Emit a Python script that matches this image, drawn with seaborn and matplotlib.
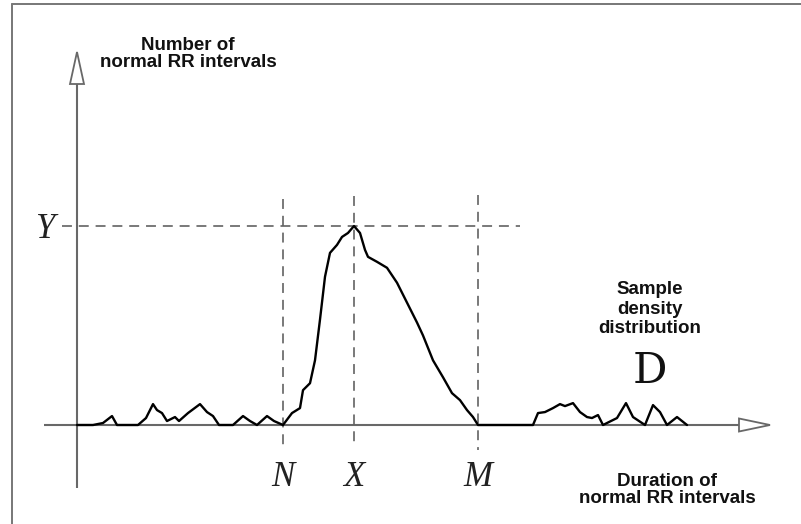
import matplotlib
matplotlib.use("Agg")
import matplotlib.pyplot as plt
from matplotlib.patches import Polygon
from matplotlib.lines import Line2D
import numpy as np
import pandas as pd
import seaborn as sns

# Sample density distribution of normal RR interval durations
duration = [0, 16, 26, 35, 40, 61, 69, 76, 80, 85, 90, 98, 102, 111, 123, 130,
            136, 142, 156, 166, 173, 180, 190, 197, 206, 215, 223, 226, 233,
            238, 243, 248, 253, 260, 265, 271, 277, 283, 288, 291, 300, 310,
            320, 330, 340, 346, 356, 366, 375, 383, 390, 396, 401, 456, 461,
            468, 476, 483, 488, 496, 503, 510, 515, 521, 526, 540, 549, 556,
            568, 576, 583, 590, 600, 610]
count = [0, 0, 1, 4.5, 0, 0, 3.5, 10.5, 7.5, 6, 2, 4, 2, 6, 10.5, 6.5,
         4.5, 0, 0, 4.5, 2, 0, 4.5, 2, 0, 6, 8.5, 17.5, 21,
         32.5, 53, 74.5, 86.5, 90.5, 94.5, 96.5, 100, 96.5, 88, 84.5, 82, 79,
         71.5, 61.5, 51.5, 45, 32.5, 24, 16, 12.5, 7.5, 4, 0, 0, 6,
         6.5, 8.5, 10.5, 9.5, 11, 6.5, 4, 3.5, 5, 0, 3.5, 11, 4,
         0, 10, 6.5, 0, 4, 0]

# Marked positions on the axes
N_pos, X_pos, M_pos = 206, 277, 401
Y_val = 100

sns.set_style("white")
plt.rcParams["font.family"] = ["Liberation Sans", "DejaVu Sans"]

W, H = 801, 524
fig = plt.figure(figsize=(W / 100, H / 100), dpi=100)
ax = fig.add_axes([0, 0, 1, 1])

# scale: 1 count unit = 1.99 px, origin of the axes at pixel (77, 425)
ppu = 1.99
x0_px, y0_px = 77, 425

def py(p):
    """pixel row -> count units"""
    return (y0_px - p) / ppu

axis_col = "#686868"
dash_col = "#555555"

# outer frame (left and top edges)
fig.add_artist(Line2D([12 / W, 12 / W], [0, 1 - 4 / H], color="#777777", lw=1.4))
fig.add_artist(Line2D([12 / W, 1], [1 - 4 / H, 1 - 4 / H], color="#777777", lw=1.4))

# y axis with hollow arrow head
y_bottom, y_base, y_tip = py(488), py(84), py(52)
ax.plot([0, 0], [y_bottom, y_base], color=axis_col, lw=1.5, solid_capstyle="butt")
ax.add_patch(Polygon([[-7, y_base], [7, y_base], [0, y_tip]], closed=True,
                     facecolor="white", edgecolor=axis_col, lw=1.3))

# x axis with hollow arrow head
x_left, x_base, x_tip = -33, 662, 693
half = 6.5 / ppu
ax.plot([x_left, x_base], [0, 0], color=axis_col, lw=1.5, solid_capstyle="butt")
ax.add_patch(Polygon([[x_base, -half], [x_base, half], [x_tip, 0]], closed=True,
                     facecolor="white", edgecolor=axis_col, lw=1.3))

# reference lines
dash_kw = dict(color=dash_col, lw=1.1, dashes=(6.5, 4.5))
ax.plot([-15, 443], [Y_val, Y_val], **dash_kw)
ax.plot([N_pos, N_pos], [py(199), py(450)], **dash_kw)
ax.plot([X_pos, X_pos], [py(196), py(445)], **dash_kw)
ax.plot([M_pos, M_pos], [py(195), py(450)], **dash_kw)

# density curve
df = pd.DataFrame({"duration": duration, "count": count})
sns.lineplot(data=df, x="duration", y="count", ax=ax, color="black", lw=1.7,
             sort=False, estimator=None)
ax.lines[-1].set_solid_joinstyle("round")
ax.set_xlim(-x0_px, W - x0_px)
ax.set_ylim(-(H - y0_px) / ppu, y0_px / ppu)
ax.axis("off")

# labels
lab_kw = dict(fontsize=13.5, fontweight="bold", color="#111111",
              ha="center", va="center", linespacing=0.95)
ax.text(188 - x0_px, py(54), "Number of\nnormal RR intervals", **lab_kw)
ax.text(667 - x0_px, py(490), "Duration of\nnormal RR intervals", **lab_kw)
ax.text(650 - x0_px, py(309), "Sample\ndensity\ndistribution",
        **{**lab_kw, "linespacing": 1.2})

ital = dict(family="Liberation Serif", style="italic", fontsize=25,
            color="#222222", ha="center", va="center")
ax.text(45 - x0_px, py(230), "Y", **ital)
ax.text(N_pos, py(477), "N", **ital)
ax.text(X_pos, py(477), "X", **ital)
ax.text(M_pos, py(477), "M", **ital)

ax.text(650 - x0_px, py(371), "D", family="DejaVu Serif", fontsize=31,
        color="#111111", ha="center", va="center")

fig.savefig("out.png", dpi=100, facecolor="white")
